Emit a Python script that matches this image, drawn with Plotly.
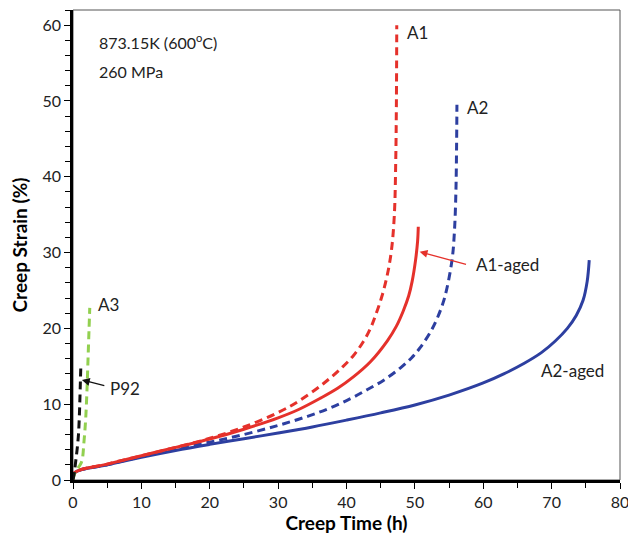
import plotly.graph_objects as go

# ---- data ----
a1_t = [0, 0.3, 5, 10, 15, 20, 25, 30, 33, 36.6, 39.4, 41, 42.5, 43.5, 44.2, 45.2, 46.0, 46.6, 47.0, 47.2, 47.3, 47.35]
a1_s = [0, 1.0, 2.1, 3.2, 4.3, 5.5, 7.0, 8.9, 10.4, 12.7, 14.9, 16.4, 18.3, 20.0, 21.6, 24.3, 27.2, 30.5, 35, 42, 50, 60]

a1aged_t = [0, 0.3, 5, 10, 15, 20, 25, 30, 33, 36.2, 38.7, 41, 43.5, 46, 47.3, 48.3, 49.1, 49.6, 50.1, 50.4, 50.5]
a1aged_s = [0, 1.0, 2.1, 3.2, 4.3, 5.4, 6.7, 8.2, 9.3, 10.8, 12.1, 13.6, 15.6, 18.4, 20.3, 22.3, 24.3, 26.2, 29.0, 31.5, 33.4]

a2_t = [0, 0.3, 5, 10, 15, 20, 25, 30, 34.3, 37.6, 40.5, 43, 45.5, 47.9, 49.5, 50.8, 52.2, 53.3, 54.2, 54.9, 55.5, 55.8, 56.0, 56.1, 56.15]
a2_s = [0, 1.0, 2.0, 3.1, 4.1, 5.0, 6.0, 7.2, 8.4, 9.5, 10.7, 11.9, 13.2, 14.8, 16.1, 17.5, 19.4, 21.4, 23.6, 26.2, 29.5, 33, 38, 44, 49.5]

a2aged_t = [0, 0.3, 5, 10, 15, 20, 25, 30, 35, 40, 45, 50, 55, 60, 63, 66, 68.5, 70.5, 72.3, 73.6, 74.6, 75.2, 75.5]
a2aged_s = [0, 1.0, 2.0, 3.0, 3.9, 4.7, 5.45, 6.2, 7.0, 7.9, 8.85, 9.9, 11.2, 12.8, 14.0, 15.4, 16.8, 18.3, 20.0, 21.7, 23.7, 26.2, 29.0]

a3_t = [0, 0.3, 0.9, 1.3, 1.6, 1.85, 2.05, 2.2, 2.35, 2.45]
a3_s = [0, 1.0, 1.8, 2.5, 5, 8, 12, 16, 20, 22.7]

p92_t = [0, 0.2, 0.4, 0.6, 0.8, 0.95, 1.05, 1.15]
p92_s = [0, 1.0, 2.5, 4, 6, 9, 12, 15.2]

x_ticks = [0, 10, 20, 30, 40, 50, 60, 70, 80]
y_ticks = [0, 10, 20, 30, 40, 50, 60]

RED = "#E5312B"
BLUE = "#2D3FA0"
GREEN = "#92D050"
BLACK = "#111111"
FONT = "Lato"
DASH = "8px,5px"

fig = go.Figure()

def add(t, s, color, dash):
    fig.add_trace(go.Scatter(x=t, y=s, mode="lines",
                             line=dict(color=color, width=3, dash=dash, shape="spline", smoothing=1.0),
                             showlegend=False, hoverinfo="skip"))

add(a2aged_t, a2aged_s, BLUE, "solid")
add(a2_t, a2_s, BLUE, DASH)
add(a1aged_t, a1aged_s, RED, "solid")
add(a1_t, a1_s, RED, DASH)
add(a3_t, a3_s, GREEN, DASH)
add(p92_t, p92_s, BLACK, DASH)

txt = dict(family=FONT, size=17, color="#222222")
labels = [
    ("A1", 48.5, 59.0),
    ("A2", 57.4, 49.1),
    ("A3", 3.3, 23.1),
    ("A2-aged", 68.1, 14.5),
    ("A1-aged", 58.6, 28.4),
    ("P92", 5.1, 12.1),
]
for text, x, y in labels:
    fig.add_annotation(x=x, y=y, text=text, showarrow=False, xanchor="left", yanchor="middle", font=txt)

# arrows
fig.add_annotation(x=50.7, y=30.1, ax=57.7, ay=28.4, axref="x", ayref="y", text="", showarrow=True,
                   arrowhead=2, arrowsize=1.2, arrowwidth=1.3, arrowcolor=RED)
fig.add_annotation(x=1.3, y=13.2, ax=4.8, ay=12.4, axref="x", ayref="y", text="", showarrow=True,
                   arrowhead=2, arrowsize=1.2, arrowwidth=1.3, arrowcolor=BLACK)

# condition text
fig.add_annotation(x=0.043, y=0.932, xref="paper", yref="paper", text="873.15K (600<sup>o</sup>C)", showarrow=False,
                   xanchor="left", yanchor="middle", font=dict(family=FONT, size=16, color="#222222"))
fig.add_annotation(x=0.043, y=0.87, xref="paper", yref="paper", text="260 MPa", showarrow=False,
                   xanchor="left", yanchor="middle", font=dict(family=FONT, size=16, color="#222222"))

# thin frame
fig.add_shape(type="rect", xref="paper", yref="paper", x0=0, y0=0, x1=1, y1=1,
              line=dict(color="#555555", width=1), layer="below")

axis_common = dict(
    showgrid=False, zeroline=False, showline=True, linecolor="black", linewidth=2.5,
    ticks="outside", ticklen=6, tickwidth=1.3, tickcolor="black",
    tickfont=dict(family=FONT, size=16, color="#222222"),
    ticklabeloverflow="allow", automargin=False,
)
fig.update_xaxes(range=[0, 80], tickvals=x_ticks, **axis_common,
                 minor=dict(dtick=5, ticks="outside", ticklen=5, tickwidth=1.3, tickcolor="black"),
                 title=dict(text="<b>Creep Time (h)</b>", font=dict(family=FONT, size=19, color="black"), standoff=6))
fig.update_yaxes(range=[0, 62], tickvals=y_ticks, **axis_common,
                 minor=dict(dtick=2, ticks="outside", ticklen=5, tickwidth=1.3, tickcolor="black"),
                 title=dict(text="<b>Creep Strain (%)</b>", font=dict(family=FONT, size=19, color="black"), standoff=10))

fig.update_layout(
    width=628, height=542,
    margin=dict(l=73, r=8, t=10, b=62, autoexpand=False),
    plot_bgcolor="white", paper_bgcolor="white",
)

fig.write_html("out.html")
